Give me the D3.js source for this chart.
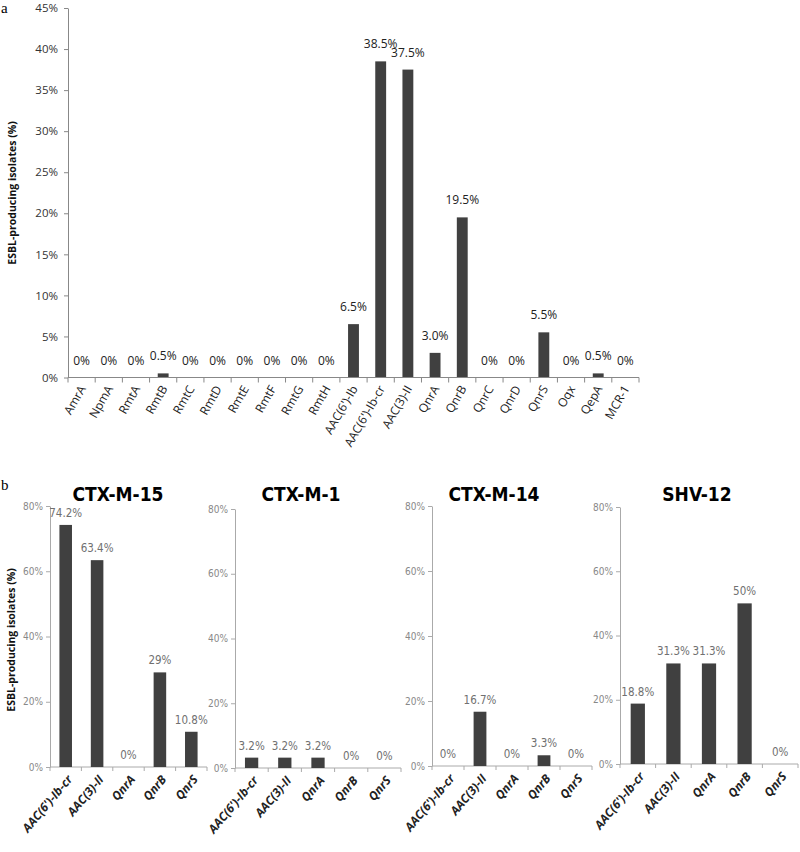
<!DOCTYPE html>
<html><head><meta charset="utf-8">
<script src="https://cdn.jsdelivr.net/npm/d3@7"></script>
<style>body{margin:0;background:#fff}svg{display:block}</style>
</head><body>
<svg id="c" width="800" height="852"></svg>
<script>
// ---- Data ----
const genesA = ["AmrA","NpmA","RmtA","RmtB","RmtC","RmtD","RmtE","RmtF","RmtG","RmtH","AAC(6')-Ib","AAC(6')-Ib-cr","AAC(3)-II","QnrA","QnrB","QnrC","QnrD","QnrS","Oqx","QepA","MCR-1"];
const valuesA = [0,0,0,0.5,0,0,0,0,0,0,6.5,38.5,37.5,3.0,19.5,0,0,5.5,0,0.5,0];
const ticksA = [0,5,10,15,20,25,30,35,40,45];

const genesB = ["AAC(6')-Ib-cr","AAC(3)-II","QnrA","QnrB","QnrS"];
const panelTitles = ["CTX-M-15","CTX-M-1","CTX-M-14","SHV-12"];
const ctxm15 = [74.2,63.4,0,29,10.8];
const ctxm1 = [3.2,3.2,3.2,0,0];
const ctxm14 = [0,16.7,0,3.3,0];
const shv12 = [18.8,31.3,31.3,50,0];
const ticksB = [0,20,40,60,80];
const yTitle = "ESBL-producing isolates (%)";

const svg = d3.select("#c");
const barColor = "#404040";

// ---- Panel a ----
const xA = d3.scaleBand().domain(genesA).range([68,639]).paddingInner(0.6).paddingOuter(0.3);
const yA = d3.scaleLinear().domain([0,45]).range([377.5,8]);
const gA = svg.append("g");

gA.append("g").attr("transform","translate(68,0)")
  .call(d3.axisLeft(yA).tickValues(ticksA).tickFormat(d=>d+"%").tickSize(4).tickSizeOuter(0))
  .call(g=>{g.select(".domain").attr("stroke","#888");g.selectAll(".tick line").attr("stroke","#888");
    g.selectAll("text").attr("font-family","Open Sans").attr("font-size",11.5).attr("fill","#333").attr("x",-10);});

gA.selectAll("rect").data(genesA).join("rect")
  .attr("x",d=>xA(d)).attr("width",xA.bandwidth())
  .attr("y",(d,i)=>yA(valuesA[i])).attr("height",(d,i)=>yA(0)-yA(valuesA[i]))
  .attr("fill",barColor);

gA.append("line").attr("x1",68).attr("x2",639).attr("y1",yA(0)).attr("y2",yA(0)).attr("stroke","#888");
const stepA = xA.step();
gA.selectAll("line.tk").data(d3.range(genesA.length+1)).join("line").attr("class","tk")
  .attr("x1",i=>68+i*stepA).attr("x2",i=>68+i*stepA).attr("y1",yA(0)).attr("y2",yA(0)+5).attr("stroke","#888");

gA.selectAll("text.vl").data(genesA).join("text").attr("class","vl")
  .attr("x",d=>xA(d)+xA.bandwidth()/2).attr("y",(d,i)=>yA(valuesA[i])-13)
  .attr("text-anchor","middle").attr("font-family","Open Sans").attr("font-size",12).attr("fill","#222")
  .text((d,i)=>valuesA[i]===0?"0%":valuesA[i].toFixed(1)+"%");

gA.selectAll("text.xl").data(genesA).join("text").attr("class","xl")
  .attr("transform",d=>`translate(${xA(d)+xA.bandwidth()/2+1},${yA(0)+9}) rotate(-60)`)
  .attr("text-anchor","end").attr("dy","0.35em")
  .attr("font-family","Open Sans").attr("font-size",12).attr("fill","#222").text(d=>d);

svg.append("text").attr("transform","translate(16,193) rotate(-90)").attr("text-anchor","middle")
  .attr("font-family","Open Sans").attr("font-weight","bold").attr("font-size",10.5).attr("fill","#111").text(yTitle);

svg.append("text").attr("x",1).attr("y",13).attr("font-family","Liberation Serif").attr("font-size",15).text("a");
svg.append("text").attr("x",1).attr("y",490).attr("font-family","Liberation Serif").attr("font-size",15).text("b");

// ---- Panel b ----
const seriesB = [ctxm15,ctxm1,ctxm14,shv12];
const layout = [
  {x0:50,x1:207,top:506,bot:767,tx:118},
  {x0:235,x1:401,top:509,bot:768,tx:301},
  {x0:432,x1:592,top:506,bot:766,tx:494},
  {x0:620,x1:798,top:507,bot:764,tx:697}
];
seriesB.forEach((vals,p)=>{
  const L = layout[p];
  const g = svg.append("g");
  const x = d3.scaleBand().domain(genesB).range([L.x0,L.x1]).paddingInner(0.6).paddingOuter(0.3);
  const y = d3.scaleLinear().domain([0,80]).range([L.bot,L.top]);
  g.append("g").attr("transform",`translate(${L.x0},0)`)
    .call(d3.axisLeft(y).tickValues(ticksB).tickFormat(d=>d+"%").tickSize(4).tickSizeOuter(0))
    .call(a=>{a.select(".domain").attr("stroke","#aaa");a.selectAll(".tick line").attr("stroke","#aaa");
      a.selectAll("text").attr("font-family","DejaVu Sans Condensed").attr("font-size",10).attr("fill","#888").attr("x",-7);});
  g.append("line").attr("x1",L.x0).attr("x2",L.x1).attr("y1",y(0)).attr("y2",y(0)).attr("stroke","#aaa");
  const st = x.step();
  g.selectAll("line.tk").data(d3.range(genesB.length+1)).join("line").attr("class","tk")
    .attr("x1",i=>L.x0+i*st).attr("x2",i=>L.x0+i*st).attr("y1",y(0)).attr("y2",y(0)+4).attr("stroke","#aaa");
  g.selectAll("rect").data(genesB).join("rect")
    .attr("x",d=>x(d)).attr("width",x.bandwidth())
    .attr("y",(d,i)=>y(vals[i])).attr("height",(d,i)=>y(0)-y(vals[i])).attr("fill",barColor);
  g.selectAll("text.vl").data(genesB).join("text").attr("class","vl")
    .attr("x",d=>x(d)+x.bandwidth()/2).attr("y",(d,i)=>y(vals[i])-8)
    .attr("text-anchor","middle").attr("font-family","DejaVu Sans Condensed").attr("font-size",11.5).attr("fill","#707070")
    .text((d,i)=>vals[i]+"%");
  g.selectAll("text.xl").data(genesB).join("text").attr("class","xl")
    .attr("transform",d=>`translate(${x(d)+x.bandwidth()/2+4},${y(0)+10}) rotate(-50)`)
    .attr("text-anchor","end").attr("dy","0.35em")
    .attr("font-family","Open Sans").attr("font-weight","bold").attr("font-style","italic")
    .attr("font-size",12).attr("fill","#222").text(d=>d);
  g.append("text").attr("x",L.tx).attr("y",501).attr("text-anchor","middle")
    .attr("font-family","DejaVu Sans Condensed").attr("font-weight","bold").attr("font-size",19).attr("fill","#000")
    .text(panelTitles[p]);
});
svg.append("text").attr("transform","translate(15,640) rotate(-90)").attr("text-anchor","middle")
  .attr("font-family","Open Sans").attr("font-weight","bold").attr("font-size",10.5).attr("fill","#111").text(yTitle);
</script>
</body></html>
